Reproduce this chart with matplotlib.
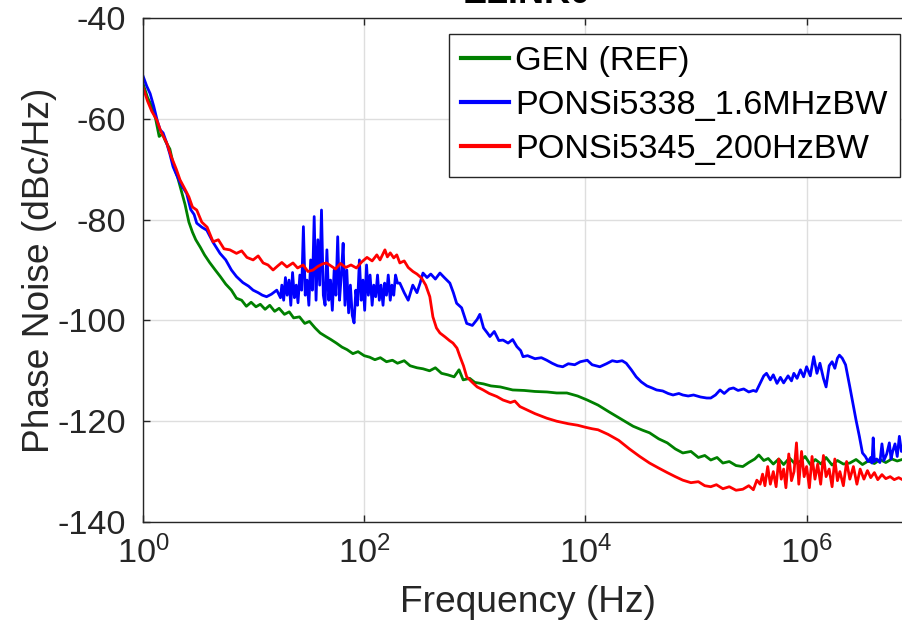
import numpy as np
import matplotlib
matplotlib.use('Agg')
import matplotlib.pyplot as plt

plt.rcParams['font.family'] = ['Liberation Sans', 'DejaVu Sans']
plt.rcParams['mathtext.default'] = 'regular'
plt.rcParams['axes.unicode_minus'] = False

# GEN (REF)
f_gen = [1.0, 1.1, 1.2, 1.3, 1.4, 1.5, 1.6, 1.75, 1.9, 2.05, 2.2, 2.4, 2.6, 2.8, 3.0, 3.3, 3.6, 4.0,
         4.5, 5.0, 5.6, 6.3, 7.0, 7.8, 8.6, 9.5, 10.5, 11.5, 12.7, 14, 15.5, 17, 19, 21, 23, 26, 29,
         32, 36, 40, 45, 50, 56, 63, 70, 79, 88, 100, 112, 125, 140, 159, 180, 200, 230, 260, 300,
         340, 390, 440, 500, 570, 650, 720, 785, 900, 1000, 1200, 1400, 1700, 2200, 2800, 3500,
         4500, 5500, 6800, 8500, 10400, 13000, 16500, 21900, 27000, 33000, 38000, 46000, 55000,
         65000, 76000, 90000, 105000, 120000, 136000, 155000, 175000, 200000, 230000, 265000,
         300000, 340000, 370000, 410000, 450000, 500000, 560000, 620000, 700000, 780000, 870000,
         970000, 1.08e6, 1.2e6, 1.35e6, 1.5e6, 1.7e6, 1.9e6, 2.15e6, 2.46e6, 2.8e6, 3.2e6, 3.6e6,
         4.1e6, 4.6e6, 5.2e6, 5.9e6, 6.6e6, 7.3e6, 8.0e6, 9.0e6]
pn_gen = [-53.0, -55.8, -57.5, -60.0, -63.5, -63.0, -64.5, -66.0, -69.5, -71.5, -74.0, -77.0,
          -80.5, -82.5, -84.0, -85.5, -87.0, -88.5, -90.0, -91.3, -92.8, -94.0, -95.6, -96.0,
          -97.2, -96.4, -97.3, -96.8, -97.8, -97.0, -98.2, -97.6, -98.8, -98.3, -99.5, -99.3,
          -100.6, -100.2, -101.5, -102.5, -103.2, -103.8, -104.5, -105.3, -105.8, -106.6, -106.2,
          -107.0, -107.3, -107.8, -107.4, -108.2, -107.9, -108.5, -108.0, -109.0, -109.4, -109.6,
          -110.0, -109.4, -110.5, -110.8, -111.2, -109.8, -111.8, -111.5, -112.3, -112.6, -113.0,
          -113.2, -113.8, -113.9, -114.1, -114.2, -114.4, -114.4, -115.0, -115.8, -116.8, -118.2,
          -119.8, -121.0, -121.8, -122.3, -123.5, -124.3, -125.5, -126.3, -126.0, -127.2, -126.8,
          -127.7, -127.2, -128.3, -128.0, -128.8, -129.0, -128.2, -127.5, -126.7, -127.8, -127.4,
          -128.5, -127.5, -128.6, -127.3, -128.4, -128.0, -127.0, -128.6, -127.6, -128.5, -127.2,
          -128.7, -127.8, -128.5, -128.3, -127.6, -128.6, -127.9, -128.4, -127.6, -128.2, -127.5,
          -127.9, -127.6, -128.0, -127.6]

# PONSi5338_1.6MHzBW
f_5338 = [1.0, 1.08, 1.16, 1.25, 1.35, 1.43, 1.52, 1.62, 1.75, 1.87, 2.0, 2.2, 2.48, 2.7, 2.9,
          3.06, 3.4, 3.77, 4.3, 4.97, 5.6, 6.3, 7.0, 8.0, 9.0, 9.9, 11, 12, 13.1, 14.5, 16.2, 17.5,
          18, 18.7, 19.4, 20.1, 20.9, 21.7, 22.5, 23.4, 24.3, 25.2, 26.2, 27.2, 28.2, 29.3, 30.4,
          31.6, 32.8, 34, 35.3, 36.7, 38.1, 39.6, 41.1, 42.7, 44.3, 46, 47.8, 49.6, 51.5, 53.5,
          55.5, 57.6, 59.8, 62.1, 64.5, 67, 69.6, 72.3, 75, 78, 81, 84, 87, 90.5, 94, 97.5, 101,
          105, 109, 113, 118, 122, 127, 132, 137, 142, 148, 153, 159, 165, 172, 178, 185, 192, 200,
          210, 230, 250, 275, 300, 320, 340, 370, 400, 440, 484,
          530, 595, 640, 685, 760, 845, 950, 1050, 1110, 1200, 1300, 1370, 1500, 1650, 1800, 2000,
          2200, 2400, 2600, 2730, 3000, 3500, 4000, 4470, 5000, 5600, 6240, 7000, 8000, 9000,
          10400, 11500, 13500, 15500, 17500, 19300, 21500, 23400, 26000, 28800, 32000, 36000,
          40000, 44000, 50000, 56000, 62000, 70000, 76000, 85000, 95000, 110000, 125000, 136000,
          150000, 165000, 180000, 200000, 218000, 240000, 270000, 300000, 330000, 350000, 380000,
          410000, 434000, 470000, 500000, 540000, 580000, 620000, 680000, 730000, 767000, 820000,
          880000, 940000, 1.0e6, 1.08e6, 1.16e6, 1.24e6, 1.32e6, 1.42e6, 1.5e6, 1.6e6, 1.7e6,
          1.8e6, 1.9e6, 1.98e6, 2.1e6, 2.25e6, 2.46e6, 2.65e6, 2.8e6, 3.0e6, 3.2e6, 3.4e6, 3.6e6,
          3.8e6, 3.9e6, 4.0e6, 4.1e6, 4.3e6, 4.6e6, 4.8e6, 5.0e6, 5.3e6, 5.6e6, 5.8e6, 6.0e6,
          6.3e6, 6.6e6, 6.9e6, 7.2e6, 7.5e6, 8.0e6, 8.6e6, 9.2e6]
pn_5338 = [-51.5, -53.5, -55.0, -57.5, -60.5, -62.2, -62.8, -64.5, -67.0, -69.5, -71.0, -73.0,
           -74.8, -78.0, -79.0, -80.7, -81.5, -82.1, -84.5, -86.7, -88.0, -90.0, -91.3, -92.5,
           -93.2, -94.0, -94.5, -95.0, -95.3, -94.8, -94.0, -95.5,
           -93.0, -96.0, -91.5, -95.0, -92.0, -97.0, -90.5, -95.5, -93.0, -96.5, -91.0, -94.0,
           -81.4, -95.0, -92.0, -97.0, -88.0, -94.0, -79.4, -96.0, -84.0, -93.0, -78.1, -95.0,
           -97.0, -86.0, -96.0, -92.0, -98.0, -90.0, -95.0, -83.4, -96.0, -91.0, -84.7, -97.0,
           -90.0, -98.5, -93.0, -99.0, -100.5, -94.0, -97.0, -88.0, -96.0, -92.0, -98.0, -89.0,
           -95.0, -91.0, -97.0, -93.0, -95.3, -91.0, -96.0, -93.0, -97.0, -92.6, -95.0, -91.0,
           -96.0, -93.0, -95.0, -91.0, -92.6,
           -92.6, -94.5, -96.0, -93.0, -94.5, -92.6, -90.6, -91.5, -90.8, -91.8, -90.6, -91.5,
           -92.6, -94.5, -96.6, -97.5, -100.6, -101.0, -99.8, -98.8, -101.5, -102.5, -103.2,
           -102.2, -104.0, -103.9, -104.5, -103.8, -105.2, -106.0, -107.2, -107.0, -107.6,
           -107.4, -107.9, -108.5, -109.0, -109.2, -108.6, -108.8, -108.2, -107.9, -108.8,
           -109.2, -108.6, -108.0, -108.2, -108.0, -108.5, -109.8, -111.2, -112.2, -113.0,
           -113.4, -113.8, -114.0, -114.5, -114.8, -114.5, -114.8, -115.0, -114.8, -115.2,
           -115.4, -115.4, -114.8, -113.8, -114.5, -113.6, -113.4, -113.9, -113.6, -114.2,
           -113.9, -114.1, -112.5, -111.0, -110.5, -111.8, -110.8, -112.5, -111.3, -112.4,
           -111.0, -112.0, -110.5, -111.5, -109.8, -111.2, -109.2, -111.0, -107.2, -110.5,
           -108.5, -111.5, -113.2, -109.0, -108.2, -109.5, -107.5, -106.9, -107.5, -108.8,
           -113.2, -117.0, -119.8, -123.0, -126.3, -127.0, -128.0, -127.2, -128.3, -123.3,
           -128.0, -127.5, -128.2, -124.5, -127.8, -126.5, -124.3, -127.5, -126.0, -124.5,
           -127.0, -123.0, -126.0, -125.0, -127.0, -124.0, -126.5]

# PONSi5345_200HzBW
f_5345 = [1.0, 1.1, 1.2, 1.33, 1.45, 1.64, 1.8, 2.0, 2.16, 2.4, 2.6, 2.8, 3.06, 3.4, 3.8, 4.3,
          4.8, 5.4, 6.1, 7.0, 7.8, 8.7, 9.9, 11, 12.2, 13.5, 15, 16.5, 18, 20, 22.7, 25, 28, 31,
          34.5, 38, 42, 45.6, 50, 55, 61, 68, 76, 85, 95, 106, 118, 130, 139, 148, 154, 162, 172,
          185, 197, 210, 230, 250, 276, 300, 330, 360, 392, 418, 450, 484, 540, 590, 635, 690,
          735, 790, 845, 950, 1050, 1190, 1350, 1580, 1800, 2100, 2300, 2560, 3000, 3500, 4470,
          5500, 7000, 8500, 10000, 11500, 13000, 16000, 20000, 25000, 31000, 38000, 46000, 55000,
          65000, 76000, 90000, 105000, 120000, 136000, 153000, 175000, 200000, 230000, 265000,
          300000, 330000, 355000, 380000, 400000, 420000, 445000, 470000, 500000, 530000, 560000,
          590000, 620000, 650000, 690000, 730000, 770000, 810000, 850000, 900000, 950000, 1.0e6,
          1.06e6, 1.12e6, 1.19e6, 1.26e6, 1.34e6, 1.42e6, 1.5e6, 1.6e6, 1.7e6, 1.8e6, 1.9e6,
          2.0e6, 2.15e6, 2.3e6, 2.46e6, 2.65e6, 2.85e6, 3.05e6, 3.3e6, 3.55e6, 3.8e6, 4.1e6,
          4.4e6, 4.8e6, 5.2e6, 5.7e6, 6.2e6, 6.8e6, 7.5e6, 8.3e6, 9.2e6]
pn_5345 = [-53.7, -56.5, -58.5, -60.2, -62.5, -64.8, -67.5, -70.0, -72.1, -74.0, -75.5, -77.5,
           -78.1, -80.5, -81.5, -84.4, -84.0, -85.8, -86.0, -86.7, -86.2, -87.5, -88.0, -87.2,
           -88.6, -89.0, -90.0, -89.2, -88.5, -89.4, -88.6, -89.6, -89.0, -90.3, -90.0, -89.3,
           -88.8, -88.6, -89.2, -89.8, -88.7, -89.5, -89.0, -89.6, -88.4, -87.5, -88.2, -87.0,
           -88.0, -86.8, -86.0, -87.4, -86.6, -87.6, -87.0, -88.6, -88.2, -89.5, -90.3, -90.8,
           -91.6, -93.0, -95.3, -99.3, -101.5, -102.5, -103.3, -104.0, -104.5, -105.5, -107.2,
           -109.0, -111.2, -112.3, -113.2, -113.8, -114.5, -115.1, -115.8, -116.3, -116.0,
           -117.1, -117.8, -118.5, -119.4, -120.0, -120.5, -120.8, -121.2, -121.5, -121.7,
           -122.6, -123.8, -125.5, -127.0, -128.3, -129.3, -130.2, -131.0, -131.7, -132.2,
           -132.0, -132.8, -133.0, -132.6, -133.4, -133.0, -133.7, -133.5, -132.8, -133.6,
           -131.7, -132.5, -130.5, -132.8, -129.0, -132.5, -130.0, -133.0, -127.5, -131.5,
           -129.5, -133.2, -126.5, -131.8, -130.0, -124.3, -132.5, -126.0, -131.0, -129.0,
           -133.2, -127.0, -131.5, -128.5, -132.5, -126.8, -131.0, -129.5, -133.0, -127.5,
           -131.8, -130.0, -132.8, -128.0, -131.5, -129.0, -132.5, -129.5, -131.5, -129.8,
           -131.2, -130.2, -131.6, -130.6, -131.4, -131.0, -131.6, -131.2, -131.7, -131.3,
           -131.6]

fig = plt.figure(figsize=(9.02, 6.33), dpi=100)
# the plot box runs a little past the right edge of the picture (cropped in the original)
ax = fig.add_axes([143/902, 111/633, 769/902, 504/633])

ax.semilogx(f_gen, pn_gen, color='#008000', lw=2.0, label='GEN (REF)')
ax.semilogx(f_5338, pn_5338, color='#0000ff', lw=2.0, label='PONSi5338_1.6MHzBW')
ax.semilogx(f_5345, pn_5345, color='#ff0000', lw=2.0, label='PONSi5345_200HzBW')

ax.set_xlim(1, 10**6.953)
ax.set_ylim(-140, -40)
ax.set_xticks([1, 1e2, 1e4, 1e6])
ax.minorticks_off()
ax.set_yticks(np.arange(-140, -39, 20))
ax.grid(True, color='#dedede', lw=1.0)
ax.set_axisbelow(True)

for s in ['left', 'bottom', 'top', 'right']:
    ax.spines[s].set_color('#262626')
    ax.spines[s].set_linewidth(1.0)
ax.tick_params(direction='in', length=5, width=1, colors='#262626', labelsize=24.7,
               top=True, right=True)
ax.tick_params(axis='y', pad=12)
ax.tick_params(axis='x', pad=10)

ax.set_xlabel('Frequency (Hz)', fontsize=26.7, color='#262626')
ax.set_ylabel('Phase Noise (dBc/Hz)', fontsize=26.7, color='#262626')
ax.xaxis.set_label_coords(0.5, -0.125)
ax.yaxis.set_label_coords(-0.112, 0.5)

fig.text(527/902, 1 - 3/633, 'ELINK0', ha='center', va='baseline', fontsize=26,
         weight='bold', color='black')

leg = ax.legend(loc='upper right', bbox_to_anchor=(900/902, 1 - 34/633),
                bbox_transform=fig.transFigure, borderaxespad=0, fontsize=24.7,
                fancybox=False, framealpha=1, edgecolor='#262626', handlelength=1.4,
                handletextpad=0.2, borderpad=0.35, labelspacing=0.38)
leg.get_frame().set_linewidth(1.0)
for line in leg.get_lines():
    line.set_linewidth(3)

fig.savefig('out.png', dpi=100)
